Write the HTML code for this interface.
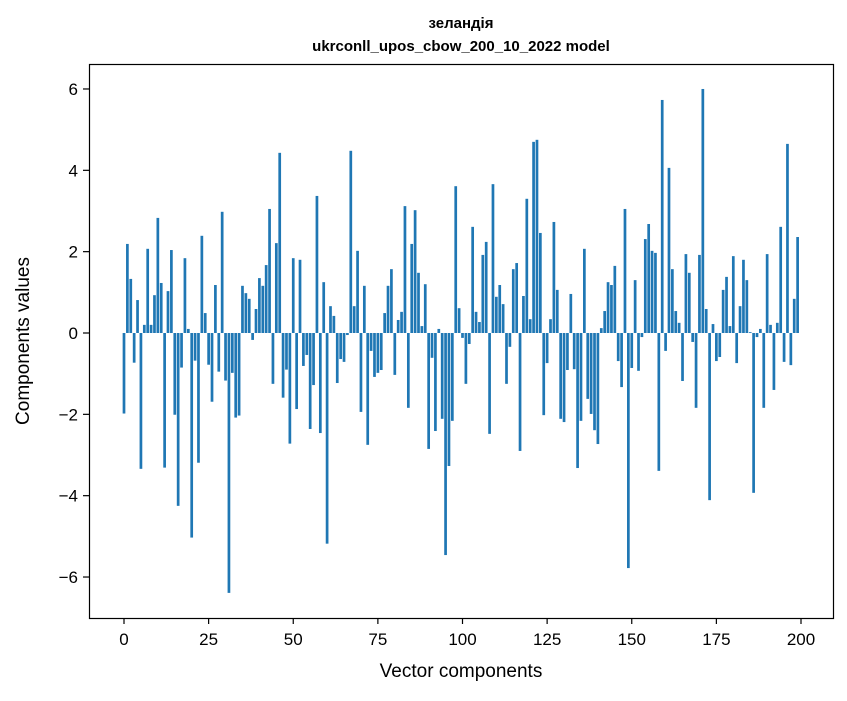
<!DOCTYPE html>
<html><head><meta charset="utf-8"><style>
body{margin:0;background:#fff;}
svg text{font-family:"Liberation Sans","DejaVu Sans",sans-serif;}
</style></head><body>
<svg id="chart" width="847" height="696" viewBox="0 0 847 696" xmlns="http://www.w3.org/2000/svg">
<rect width="847" height="696" fill="#fff"/>
<text x="461" y="28" text-anchor="middle" font-size="15" font-weight="bold">зеландія</text>
<text x="461" y="51" text-anchor="middle" font-size="15" font-weight="bold">ukrconll_upos_cbow_200_10_2022 model</text>
<g id="bars"></g>
<g id="axes"></g>
<rect x="89.5" y="64.5" width="744" height="554" fill="none" stroke="#000" stroke-width="1.2"/>
<text x="461" y="677" text-anchor="middle" font-size="19">Vector components</text>
<text transform="translate(29,341) rotate(-90)" text-anchor="middle" font-size="19">Components values</text>
</svg>
<script>
const values = [-1.98,2.19,1.33,-0.73,0.81,-3.34,0.2,2.07,0.2,0.93,2.83,1.23,-3.31,1.03,2.04,-2.01,-4.25,-0.85,1.84,0.1,
-5.03,-0.68,-3.19,2.39,0.49,-0.78,-1.69,1.18,-0.95,2.98,-1.17,-6.39,-0.98,-2.08,-2.03,1.16,0.98,0.84,-0.17,0.59,
1.35,1.16,1.67,3.05,-1.25,2.21,4.43,-1.59,-0.9,-2.72,1.84,-1.87,1.8,-0.81,-0.54,-2.36,-1.28,3.37,-2.46,1.25,
-5.18,0.66,0.42,-1.23,-0.64,-0.71,-0.05,4.48,0.66,2.02,-1.94,1.16,-2.75,-0.44,-1.08,-0.98,-0.91,0.49,1.16,1.57,
-1.03,0.32,0.52,3.12,-1.84,2.19,3.02,1.48,0.17,1.2,-2.85,-0.61,-2.41,0.1,-2.11,-5.46,-3.27,-2.16,3.61,0.61,
-0.12,-1.25,-0.27,2.61,0.52,0.27,1.92,2.24,-2.48,3.66,0.89,1.18,0.71,-1.25,-0.34,1.57,1.72,-2.9,0.91,3.3,
0.34,4.7,4.75,2.46,-2.02,-0.74,0.34,2.73,1.06,-2.11,-2.19,-0.91,0.96,-0.89,-3.32,-2.16,2.07,-1.62,-1.99,-2.39,
-2.73,0.12,0.54,1.25,1.18,1.65,-0.69,-1.33,3.05,-5.78,-0.86,1.3,-0.93,-0.1,2.31,2.68,2.02,1.97,-3.39,5.73,
-0.44,4.06,1.57,0.54,0.25,-1.18,1.94,1.48,-0.22,-1.84,1.92,6.0,0.59,-4.11,0.22,-0.69,-0.59,1.06,1.38,0.17,
1.89,-0.74,0.66,1.8,1.3,0.02,-3.93,-0.1,0.1,-1.84,1.94,0.2,-1.4,0.25,2.61,-0.71,4.65,-0.79,0.84,2.36];
const xTicks = [0,25,50,75,100,125,150,175,200];
const yTicks = [-6,-4,-2,0,2,4,6];
const yTickLabels = ["−6","−4","−2","0","2","4","6"];

const NS="http://www.w3.org/2000/svg";
function xScale(i){return 124+(801-124)*i/200;}
function yScale(v){return 333-v*40.67;}
const barsG=document.getElementById('bars');
const axesG=document.getElementById('axes');
const bw=(xScale(1)-xScale(0))*0.8;
values.forEach((v,i)=>{
  const r=document.createElementNS(NS,'rect');
  
  
  const y0=yScale(0),y1=yScale(v);
  r.setAttribute('x',xScale(i)-bw/2);
  r.setAttribute('y',Math.min(y0,y1));
  r.setAttribute('width',bw);
  r.setAttribute('height',Math.max(Math.abs(y1-y0),0.5));
  r.setAttribute('fill','#1f77b4');
  barsG.appendChild(r);
});
xTicks.forEach(t=>{
  const x=xScale(t);
  const l=document.createElementNS(NS,'line');
  
  
  l.setAttribute('x1',x);l.setAttribute('x2',x);l.setAttribute('y1',618);l.setAttribute('y2',624);
  l.setAttribute('stroke','#000');l.setAttribute('stroke-width','1.2');
  axesG.appendChild(l);
  const tx=document.createElementNS(NS,'text');
  
  
  tx.setAttribute('x',x);tx.setAttribute('y',645);tx.setAttribute('text-anchor','middle');tx.setAttribute('font-size','17');
  tx.textContent=String(t);
  axesG.appendChild(tx);
});
yTicks.forEach((t,k)=>{
  const y=yScale(t);
  const l=document.createElementNS(NS,'line');
  
  
  l.setAttribute('x1',83);l.setAttribute('x2',89);l.setAttribute('y1',y);l.setAttribute('y2',y);
  l.setAttribute('stroke','#000');l.setAttribute('stroke-width','1.2');
  axesG.appendChild(l);
  const tx=document.createElementNS(NS,'text');
  
  
  tx.setAttribute('x',78);tx.setAttribute('y',y+6);tx.setAttribute('text-anchor','end');tx.setAttribute('font-size','17');
  tx.textContent=yTickLabels[k];
  axesG.appendChild(tx);
});
</script>
</body></html>
